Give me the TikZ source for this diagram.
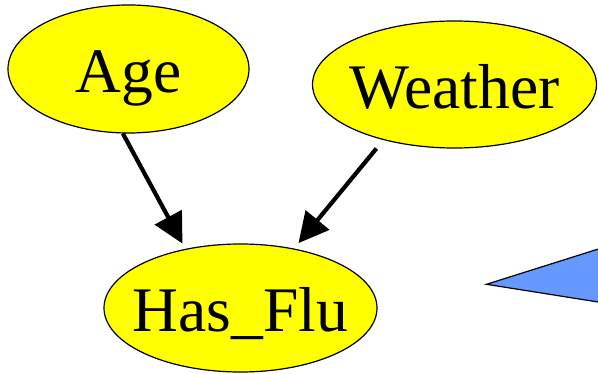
\documentclass[tikz,border=0pt]{standalone}
\usepackage{fontspec}
\setmainfont{Liberation Serif}
\usetikzlibrary{shapes.geometric}
\usetikzlibrary{arrows.meta}
\definecolor{netblue}{HTML}{6699FF}
\definecolor{netyellow}{HTML}{FFFF00}

\begin{document}
\begin{tikzpicture}[x=1pt, y=-1pt,
    var/.style={draw, ellipse, fill=netyellow, line width=1.2pt, inner sep=0pt},
    varname/.style={inner sep=0pt, text height=48pt, text depth=0pt,
      font=\fontsize{63.5}{70}\selectfont},
    cause/.style={line width=4.2pt, -{Triangle[length=30pt,width=30pt]}}]
            \useasboundingbox (0,0) rectangle (598,374);
            \node[var, minimum width=241pt, minimum height=128pt,
              label={[varname]center:Age}] (Age) at (128.5,69) {};
            \node[var, minimum width=284pt, minimum height=127pt,
              label={[varname]center:Weather}] (Weather) at (454.5,84.5) {};
            \node[var, minimum width=273pt, minimum height=128pt,
              label={[varname]center:Has\_Flu}] (Flu) at (240.5,308) {};
            \draw[cause, shorten >=6pt] (Age.265) -- (Flu.133);
            \draw[cause, shorten <=11pt, shorten >=7pt] (Weather.218) -- (Flu.48);
            \fill[netblue] (600,248.5) -- (486.5,284.3) -- (600,302.3) -- cycle;
            \draw[line width=1.2pt] (600,248.5) -- (486.5,284.3) -- (600,302.3);
\end{tikzpicture}
\end{document}
